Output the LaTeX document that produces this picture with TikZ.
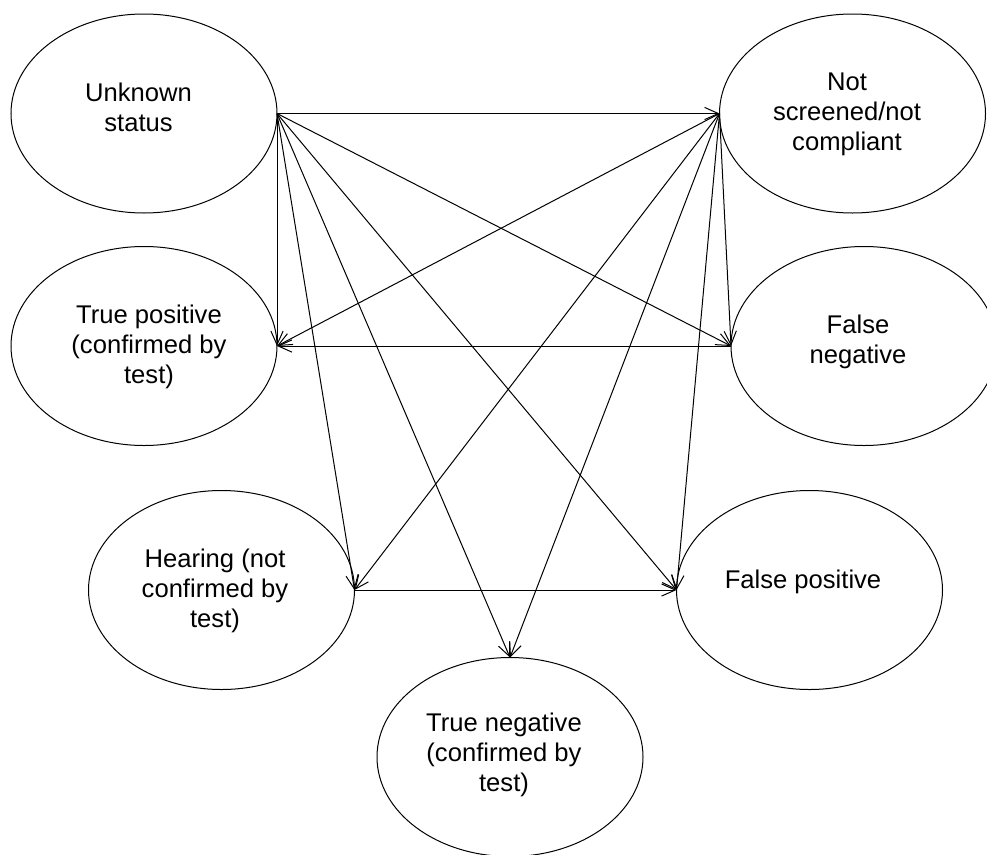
\documentclass[tikz,border=0pt]{standalone}
\usepackage{fontspec}
\setmainfont{Liberation Sans}
\usetikzlibrary{shapes.geometric,arrows.meta}
\begin{document}
\begin{tikzpicture}[x=1pt,y=-1pt,
  state/.style={draw, ellipse, line width=1pt, minimum width=266pt, minimum height=199pt, inner sep=0pt, outer sep=0pt},
  lbl/.style={align=center, font=\fontsize{25.6}{30}\selectfont, inner sep=0pt},
  link/.style={line width=1pt, -{Straight Barb[length=13.7pt,width=12.2pt]}}]
\useasboundingbox (0,0) rectangle (987,854);
\clip (0,0) rectangle (987,854);
% states
\node[state] (U)  at (144,113.5) {};
\node[state] (N)  at (852.5,113.5) {};
\node[state] (TP) at (144,346) {};
\node[state] (FN) at (864,346) {};
\node[state] (H)  at (221.5,590) {};
\node[state] (FP) at (809.5,590) {};
\node[state] (TN) at (510,757) {};
% texts
\node[lbl] (Ut)  at (138.5,110.7) {\strut Unknown\\\strut status};
\node[lbl] (Nt)  at (847,114) {\strut Not\\\strut screened/not\\\strut compliant};
\node[lbl] (TPt) at (149,347) {\strut True positive\\\strut (confirmed by\\\strut test)};
\node[lbl] (FNt) at (858,342) {\strut False\\\strut negative};
\node[lbl] (Ht)  at (215,591) {\strut Hearing (not\\\strut confirmed by\\\strut test)};
\node[lbl] (FPt) at (803,582) {\strut False positive};
\node[lbl] (TNt) at (504,755.7) {\strut True negative\\\strut (confirmed by\\\strut test)};
% connectors
\draw[link] (U.east) -- (N.west);
\draw[link] (U.east) -- (TP.east);
\draw[link] (U.east) -- (FN.west);
\draw[link] (U.east) -- (H.east);
\draw[link] (U.east) -- (TN.north);
\draw[link] (U.east) -- (FP.west);
\draw[link] (N.west) -- (TP.east);
\draw[link] (N.west) -- (FN.west);
\draw[link] (N.west) -- (H.east);
\draw[link] (N.west) -- (TN.north);
\draw[link] (N.west) -- (FP.west);
\draw[link] (FN.west) -- (TP.east);
\draw[link] (H.east) -- (FP.west);
\end{tikzpicture}
\end{document}
